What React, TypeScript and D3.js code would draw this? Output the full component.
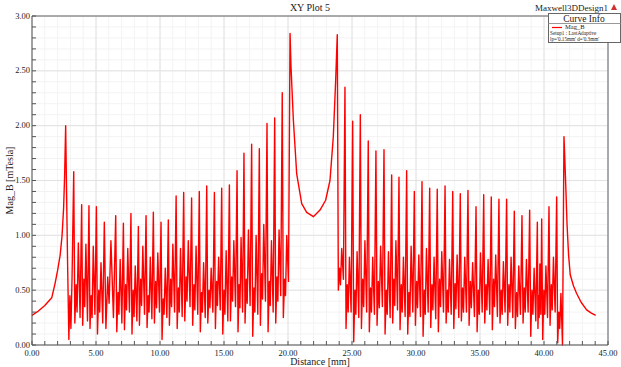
import * as d3 from "d3";

const W = 621;
const H = 367;
const PLOT = { left: 32, right: 608, top: 16, bottom: 345 };
const FONT = "'Liberation Serif', 'Times New Roman', serif";

const X_TICKS = [0, 5, 10, 15, 20, 25, 30, 35, 40, 45];
const Y_TICKS = [0, 0.5, 1, 1.5, 2, 2.5, 3];

// smooth rise from the start up to the first spike and its ring-down
const RISE: [number, number][] = [
  [0, 0.27], [0.5, 0.31], [1.0, 0.36], [1.54, 0.43], [1.8, 0.56], [2.0, 0.68],
  [2.2, 0.82], [2.35, 1.0], [2.47, 1.25], [2.55, 1.55], [2.63, 2.0], [2.7, 1.4],
  [2.78, 0.75], [2.88, 0.05], [2.96, 0.45], [3.04, 0.15], [3.13, 0.62],
];

// left winding: tall peaks, then trough / bump / dip / secondary / trough in each gap
const LEFT_PEAK_X = [
  3.26, 3.88, 4.45, 5.03, 5.65, 6.54, 7.14, 7.73, 8.31, 8.91, 9.48, 10.08, 10.65,
  11.26, 11.85, 12.47, 13.07, 13.65, 14.25, 14.82, 15.42, 16.02, 16.56, 17.16,
  17.76, 18.36, 18.96, 19.55, 20.16,
];
const LEFT_PEAK_V = [
  1.58, 1.28, 1.27, 1.26, 1.12, 1.18, 1.11, 1.2, 1.08, 1.18, 1.21, 1.12, 1.14,
  1.36, 1.39, 1.34, 1.4, 1.45, 1.39, 1.43, 1.46, 1.59, 1.75, 1.83, 1.79, 2.02,
  2.07, 2.3, 2.84,
];
const LEFT_TROUGH1 = [
  0.2, 0.18, 0.15, 0.1, 0.15, 0.12, 0.14, 0.1, 0.18, 0.16, 0.2, 0.05, 0.18, 0.15,
  0.22, 0.18, 0.12, 0.2, 0.15, 0.1, 0.22, 0.12, 0.2, 0.08, 0.18, 0.12, 0.2, 0.25,
];
const LEFT_BUMP = [
  0.55, 0.6, 0.45, 0.5, 0.62, 0.48, 0.55, 0.5, 0.6, 0.45, 0.58, 0.42, 0.6, 0.52,
  0.62, 0.55, 0.48, 0.5, 0.58, 0.5, 0.62, 0.55, 0.6, 0.52, 0.65, 0.58, 0.62, 0.6,
];
const LEFT_DIP = [
  0.3, 0.35, 0.25, 0.3, 0.38, 0.28, 0.32, 0.26, 0.36, 0.3, 0.34, 0.28, 0.35, 0.3,
  0.4, 0.32, 0.3, 0.34, 0.36, 0.28, 0.4, 0.34, 0.38, 0.3, 0.42, 0.36, 0.4, 0.45,
];
const LEFT_MID = [
  0.93, 0.92, 0.9, 0.75, 0.95, 0.78, 0.88, 0.72, 0.9, 0.8, 0.84, 0.7, 0.92, 0.88,
  0.95, 0.9, 0.75, 0.7, 0.8, 0.86, 0.95, 0.98, 1.05, 1.0, 1.1, 0.95, 1.05, 1.0,
];
const LEFT_TROUGH2 = [
  0.25, 0.22, 0.28, 0.2, 0.25, 0.2, 0.3, 0.22, 0.28, 0.24, 0.3, 0.25, 0.3, 0.26,
  0.35, 0.28, 0.25, 0.3, 0.32, 0.22, 0.35, 0.3, 0.36, 0.28, 0.4, 0.3, 0.45, 0.58,
];

// the gap between the two windings
const MIDDLE: [number, number][] = [
  [20.23, 2.55], [20.42, 2.05], [20.68, 1.56], [21.07, 1.29], [21.46, 1.21],
  [21.98, 1.17], [22.5, 1.23], [22.94, 1.32], [23.28, 1.5], [23.54, 1.9], [23.72, 2.4],
];

const RIGHT_PEAK_X = [
  23.85, 24.45, 25.05, 25.65, 26.27, 26.87, 27.5, 28.1, 28.67, 29.27, 29.87, 30.47,
  31.07, 31.66, 32.27, 32.87, 33.46, 34.06, 34.69, 35.29, 35.88, 36.48, 37.08,
  37.68, 38.28, 38.88, 39.48, 39.82, 40.39, 40.99, 41.56,
];
const RIGHT_PEAK_V = [
  2.83, 2.35, 2.04, 2.1, 1.86, 1.77, 1.78, 1.55, 1.53, 1.59, 1.4, 1.49, 1.43, 1.42,
  1.45, 1.4, 1.38, 1.41, 1.26, 1.37, 1.35, 1.33, 1.33, 1.22, 1.18, 1.23, 1.12,
  1.15, 1.26, 1.35, 1.9,
];
const RIGHT_TROUGH1 = [
  0.5, 0.15, 0.03, 0.15, 0.12, 0.18, 0.1, 0.2, 0.14, 0.1, 0.18, 0.08, 0.16, 0.12,
  0.2, 0.15, 0.22, 0.18, 0.12, 0.2, 0.14, 0.2, 0.18, 0.15, 0.2, 0.08, 0.15, 0.05,
  0.18, 0.02,
];
const RIGHT_BUMP = [
  0.7, 0.55, 0.5, 0.6, 0.52, 0.58, 0.5, 0.6, 0.55, 0.48, 0.58, 0.5, 0.55, 0.6,
  0.5, 0.56, 0.52, 0.58, 0.5, 0.55, 0.6, 0.5, 0.55, 0.48, 0.52, 0.5, 0.45, 0.5,
  0.55, 0.3,
];
const RIGHT_DIP = [
  0.55, 0.3, 0.28, 0.35, 0.3, 0.34, 0.28, 0.36, 0.3, 0.26, 0.34, 0.28, 0.32, 0.35,
  0.3, 0.33, 0.3, 0.34, 0.28, 0.32, 0.35, 0.28, 0.3, 0.26, 0.3, 0.28, 0.25, 0.28,
  0.32, 0.15,
];
const RIGHT_MID = [
  0.88, 0.8, 0.85, 0.95, 0.8, 0.9, 0.85, 0.95, 0.8, 0.9, 0.82, 0.88, 0.8, 0.85,
  0.78, 0.82, 0.8, 0.75, 0.84, 0.78, 0.82, 0.76, 0.8, 0.72, 0.78, 0.7, 0.74, 0.72,
  0.8, 0.47,
];
const RIGHT_TROUGH2 = [
  0.6, 0.3, 0.25, 0.3, 0.28, 0.35, 0.25, 0.32, 0.26, 0.3, 0.26, 0.3, 0.24, 0.3,
  0.28, 0.25, 0.3, 0.26, 0.3, 0.28, 0.26, 0.3, 0.25, 0.28, 0.3, 0.22, 0.28, 0.25,
  0.3, 0.0,
];

const TAIL: [number, number][] = [
  [41.62, 1.72], [41.7, 1.45], [41.8, 1.1], [41.92, 0.82], [42.05, 0.64],
  [42.3, 0.54], [42.55, 0.47], [42.9, 0.39], [43.33, 0.32], [43.7, 0.29], [44.04, 0.27],
];

// where each in-between value sits within a peak-to-peak gap
const GAP_POS = [0.14, 0.3, 0.42, 0.58, 0.8];

function winding(px: number[], pv: number[], gaps: number[][]) {
  const pts: [number, number][] = [];
  px.forEach((x0, i) => {
    pts.push([x0, pv[i]]);
    if (i < px.length - 1) {
      const dx = px[i + 1] - x0;
      GAP_POS.forEach((f, k) => pts.push([x0 + dx * f, gaps[k][i]]));
    }
  });
  return pts;
}

export default function App() {
  const x = d3.scaleLinear().domain([0, 45]).range([PLOT.left, PLOT.right]);
  const y = d3.scaleLinear().domain([0, 3]).range([PLOT.bottom, PLOT.top]);

  const data: [number, number][] = [
    ...RISE,
    ...winding(LEFT_PEAK_X, LEFT_PEAK_V, [LEFT_TROUGH1, LEFT_BUMP, LEFT_DIP, LEFT_MID, LEFT_TROUGH2]),
    ...MIDDLE,
    ...winding(RIGHT_PEAK_X, RIGHT_PEAK_V, [RIGHT_TROUGH1, RIGHT_BUMP, RIGHT_DIP, RIGHT_MID, RIGHT_TROUGH2]),
    ...TAIL,
  ];

  const line = d3
    .line<[number, number]>()
    .x((d) => x(d[0]))
    .y((d) => y(d[1]));

  const xMinor = d3.range(0, 46, 1);
  const yMinor = d3.range(0, 31).map((i) => i / 10);

  return (
    <svg
      width={W}
      height={H}
      style={{ position: "absolute", left: 0, top: 0, background: "#fff" }}
      fontFamily={FONT}
    >
      {/* minor grid */}
      {xMinor.map((t) => (
        <line key={"xm" + t} x1={x(t)} x2={x(t)} y1={PLOT.top} y2={PLOT.bottom} stroke="#f3f3f3" />
      ))}
      {yMinor.map((t) => (
        <line key={"ym" + t} x1={PLOT.left} x2={PLOT.right} y1={y(t)} y2={y(t)} stroke="#f3f3f3" />
      ))}
      {/* major grid */}
      {X_TICKS.map((t) => (
        <line key={"xg" + t} x1={x(t)} x2={x(t)} y1={PLOT.top} y2={PLOT.bottom} stroke="#e2e2e2" />
      ))}
      {Y_TICKS.map((t) => (
        <line key={"yg" + t} x1={PLOT.left} x2={PLOT.right} y1={y(t)} y2={y(t)} stroke="#e2e2e2" />
      ))}

      <path d={line(data) ?? ""} fill="none" stroke="#ff0000" strokeWidth={1.4} strokeLinejoin="round" />

      {/* frame */}
      <line x1={PLOT.left} x2={PLOT.right} y1={PLOT.top} y2={PLOT.top} stroke="#666" />
      <line x1={PLOT.right} x2={PLOT.right} y1={PLOT.top} y2={PLOT.bottom} stroke="#666" />
      <line x1={PLOT.left} x2={PLOT.left} y1={PLOT.top} y2={PLOT.bottom} stroke="#555" />
      <line x1={PLOT.left} x2={PLOT.right} y1={PLOT.bottom} y2={PLOT.bottom} stroke="#555" />

      {/* ticks */}
      {xMinor.map((t) => (
        <line key={"xt" + t} x1={x(t)} x2={x(t)} y1={PLOT.bottom} y2={PLOT.bottom - 4} stroke="#555" />
      ))}
      {yMinor.map((t) => (
        <line key={"yt" + t} x1={PLOT.left} x2={PLOT.left + 4} y1={y(t)} y2={y(t)} stroke="#555" />
      ))}

      {X_TICKS.map((t) => (
        <text key={"xl" + t} x={x(t)} y={PLOT.bottom + 11} textAnchor="middle" fontSize={8.5} fill="#222">
          {t.toFixed(2)}
        </text>
      ))}
      {Y_TICKS.map((t) => (
        <text key={"yl" + t} x={PLOT.left - 2} y={y(t) + 2.5} textAnchor="end" fontSize={8.5} fill="#222">
          {t.toFixed(2)}
        </text>
      ))}

      <text x={(PLOT.left + PLOT.right) / 2} y={365} textAnchor="middle" fontSize={10} fill="#222">
        Distance [mm]
      </text>
      <text
        transform={`translate(13,${(PLOT.top + PLOT.bottom) / 2}) rotate(-90)`}
        textAnchor="middle"
        fontSize={10}
        fill="#222"
      >
        Mag_B [mTesla]
      </text>

      <text x={310} y={11} textAnchor="middle" fontSize={10} fill="#222">
        XY Plot 5
      </text>
      <text x={608} y={11} textAnchor="end" fontSize={9} fill="#222">
        Maxwell3DDesign1
      </text>
      <path d="M611,10 L614,4 L617,10 Z" fill="#d03030" />

      {/* curve info box */}
      <rect x={548.5} y={13.5} width={72} height={29} fill="#fff" stroke="#666" />
      <line x1={548.5} x2={620.5} y1={23.5} y2={23.5} stroke="#999" />
      <text x={584} y={21.5} textAnchor="middle" fontSize={9.5} fill="#222">
        Curve Info
      </text>
      <line x1={552} x2={562} y1={27.5} y2={27.5} stroke="#ff0000" strokeWidth={1.2} />
      <text x={565} y={29} fontSize={6.5} fill="#222">
        Mag_B
      </text>
      <text x={550} y={35} fontSize={5.2} fill="#222">
        Setup1 : LastAdaptive
      </text>
      <text x={550} y={40.5} fontSize={5.2} fill="#222">
        lp='0.15mm' d='0.3mm'
      </text>
    </svg>
  );
}
